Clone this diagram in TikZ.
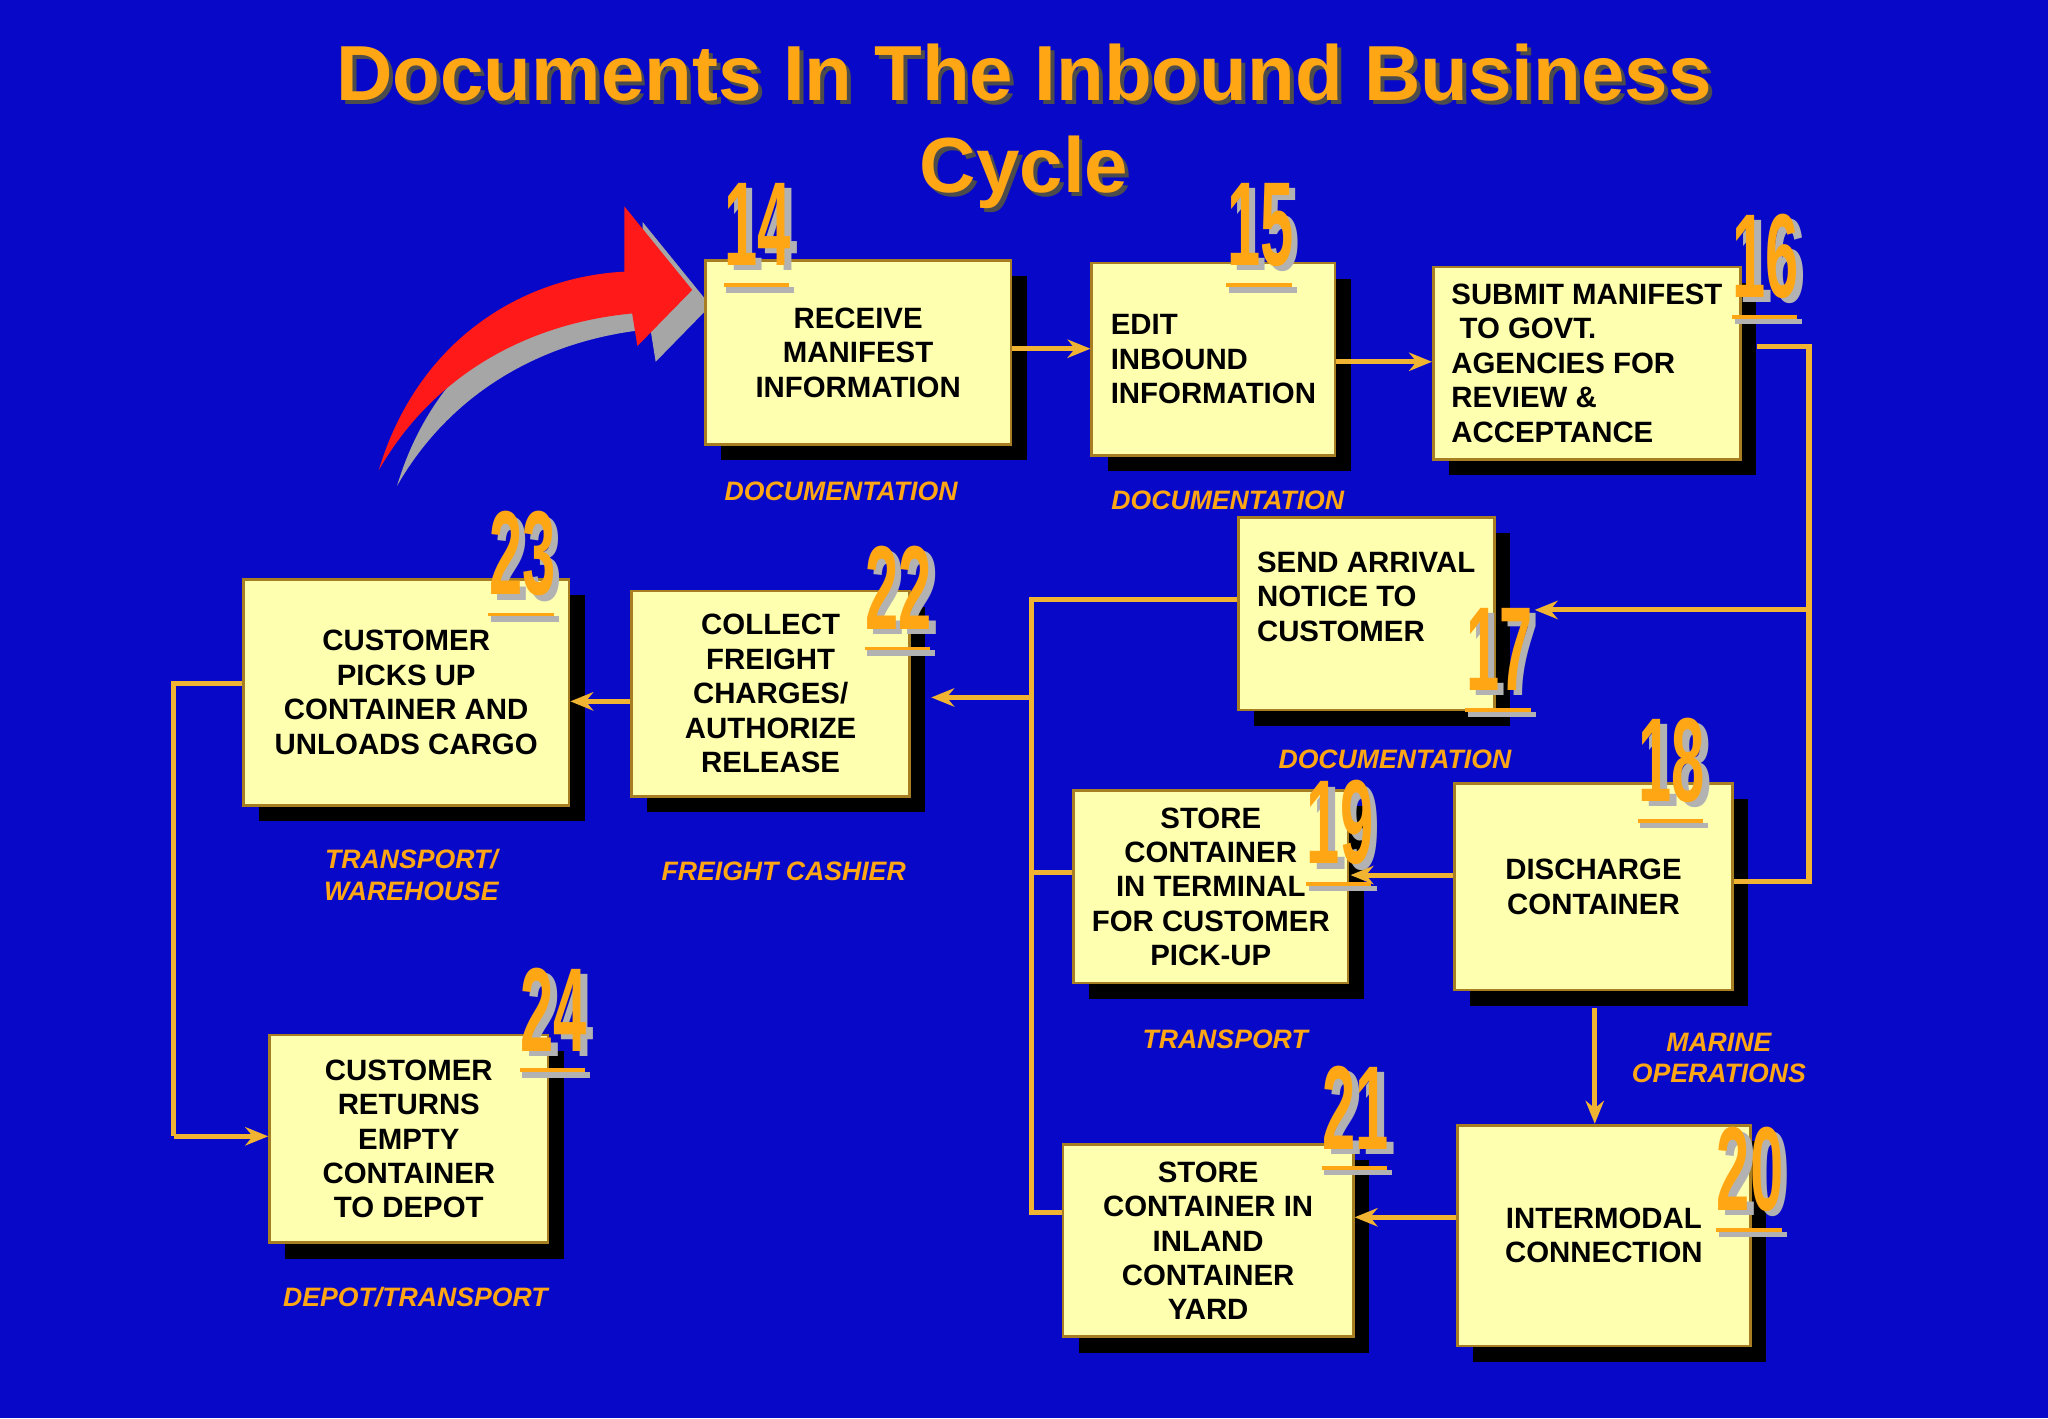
\documentclass[tikz,border=0pt]{standalone}
\usepackage{fontspec}
\setmainfont{Liberation Sans}
\usetikzlibrary{shadows,arrows.meta}
\definecolor{bg}{RGB}{8,8,200}
\definecolor{boxfill}{RGB}{255,255,176}
\definecolor{org}{RGB}{255,166,20}
\definecolor{lnc}{RGB}{240,180,50}
\tikzset{
 box/.style={draw=lnc!70!black,line width=0.6pt,fill=boxfill,align=center,font=\fontsize{6.4}{7.5}\selectfont\bfseries,
   drop shadow={shadow xshift=0.12cm,shadow yshift=-0.12cm,opacity=1,fill=black},inner sep=2pt},
 lbl/.style={text=org,font=\fontsize{5.8}{6.8}\selectfont\bfseries\itshape,align=center},
 con/.style={draw=lnc,line width=1.1pt},
 arr/.style={con,-{Stealth[length=5pt,width=4pt]}},
 numtxt/.style={font=\fontsize{26}{26}\selectfont\bfseries,xscale=0.5,inner sep=0pt}
}
\newcommand\numb[3]{%
 \node[numtxt,text=gray!60] at (#2+5,#3+4) {#1};
 \node[numtxt,text=org] (n#1) at (#2,#3) {#1};
 \fill[gray!60] (#2-24,#3+48) rectangle (#2+28,#3+52);
 \fill[org] (#2-26,#3+45) rectangle (#2+24,#3+48);}
\begin{document}
\begin{tikzpicture}[x=0.01cm,y=-0.01cm]
\fill[bg] (0,0) rectangle (1568,1086);
\useasboundingbox (0,0) rectangle (1568,1086);
\node[text=black!70,font=\fontsize{17}{20}\selectfont\bfseries,align=center] at (787,100) {Documents In The Inbound Business\\Cycle};
\node (title) [text=org,font=\fontsize{17}{20}\selectfont\bfseries,align=center] at (784,97) {Documents In The Inbound Business\\Cycle};
% red arrow
\begin{scope}[shift={(14,12)}]
\fill[gray!70] (290,360) .. controls (320,260) and (400,212) .. (478,208) -- (478,158) -- (530,222) -- (488,265) -- (484,240) .. controls (400,248) and (330,290) .. cycle;
\end{scope}
\fill[red!90!white] (290,360) .. controls (320,260) and (400,212) .. (478,208) -- (478,158) -- (530,222) -- (488,265) -- (484,240) .. controls (400,248) and (330,290) .. cycle;
% boxes
\node[box,minimum width=2.34cm,minimum height=1.41cm] (b14) at (657,270) {RECEIVE\\MANIFEST\\INFORMATION};
\node[box,minimum width=1.86cm,minimum height=1.47cm,align=left] (b15) at (929,275) {EDIT\\INBOUND\\INFORMATION\hspace{2mm}};
\node[box,minimum width=2.35cm,minimum height=1.47cm,align=left] (b16) at (1215,278) {SUBMIT MANIFEST\\\ TO GOVT.\\AGENCIES FOR\\REVIEW \&\\ACCEPTANCE\hspace{8mm}};
\node[box,minimum width=1.96cm,minimum height=1.47cm,align=left] (b17) at (1046,470) {SEND ARRIVAL\\NOTICE TO\\CUSTOMER\hspace{8mm}\\~};
\node[box,minimum width=2.13cm,minimum height=1.58cm] (b18) at (1220,679) {DISCHARGE\\CONTAINER};
\node[box,minimum width=2.10cm,minimum height=1.47cm] (b19) at (927,679) {STORE\\CONTAINER\\IN TERMINAL\\FOR CUSTOMER\\PICK-UP};
\node[box,minimum width=2.24cm,minimum height=1.69cm] (b20) at (1228,946) {INTERMODAL\\CONNECTION};
\node[box,minimum width=2.22cm,minimum height=1.47cm] (b21) at (925,950) {STORE\\CONTAINER IN\\INLAND\\CONTAINER\\YARD};
\node[box,minimum width=2.13cm,minimum height=1.57cm] (b22) at (590,531) {COLLECT\\FREIGHT\\CHARGES/\\AUTHORIZE\\RELEASE};
\node[box,minimum width=2.49cm,minimum height=1.73cm] (b23) at (311,530) {CUSTOMER\\PICKS UP\\CONTAINER AND\\UNLOADS CARGO};
\node[box,minimum width=2.13cm,minimum height=1.59cm] (b24) at (313,872) {CUSTOMER\\RETURNS\\EMPTY\\CONTAINER\\TO DEPOT};
% numbers
\numb{14}{580}{172}
\numb{15}{965}{172}
\numb{16}{1352}{196}
\numb{17}{1148}{497}
\numb{18}{1280}{582}
\numb{19}{1026}{630}
\numb{20}{1340}{895}
\numb{21}{1038}{848}
\numb{22}{688}{450}
\numb{23}{400}{424}
\numb{24}{424}{773}
% labels
\node[lbl] at (644,376) {DOCUMENTATION};
\node[lbl] at (940,383) {DOCUMENTATION};
\node[lbl] at (1068,581) {DOCUMENTATION};
\node[lbl] at (600,667) {FREIGHT CASHIER};
\node[lbl] at (315,670) {TRANSPORT/\\WAREHOUSE};
\node[lbl] at (938,796) {TRANSPORT};
\node[lbl] at (1316,810) {MARINE\\OPERATIONS};
\node[lbl] at (318,993) {DEPOT/TRANSPORT};
% connectors
\coordinate (r1) at (1385,265);
\coordinate (r2) at (1385,675);
\coordinate (l1) at (790,459);
\coordinate (l2) at (790,928);
\coordinate (k1) at (133,523);
\coordinate (k2) at (133,870);
\draw[arr] (b14.east |- 0,267) -- (b15.west |- 0,267);
\draw[arr] (b15.east |- 0,277) -- (b16.west |- 0,277);
\draw[con] (1345,265) -- (r1) -- (r2) -- (b18.east |- r2);
\draw[arr] (1385,467) -- (1175,467);
\draw[con] (b17.west |- l1) -- (l1) -- (l2) -- (b21.west |- l2);
\draw[arr] (790,534) -- (713,534);
\draw[con] (790,668) -- (b19.west |- 0,668);
\draw[arr] (b18.west |- 0,670) -- (1034,670);
\draw[arr] (1221,772) -- (b20.north -| 1221,0);
\draw[arr] (b20.west |- 0,932) -- (b21.east |- 0,932);
\draw[arr] (b22.west |- 0,537) -- (b23.east |- 0,537);
\draw[con] (b23.west |- k1) -- (k1) -- (k2);
\draw[arr] (k2) -- (b24.west |- k2);
\end{tikzpicture}
\end{document}
